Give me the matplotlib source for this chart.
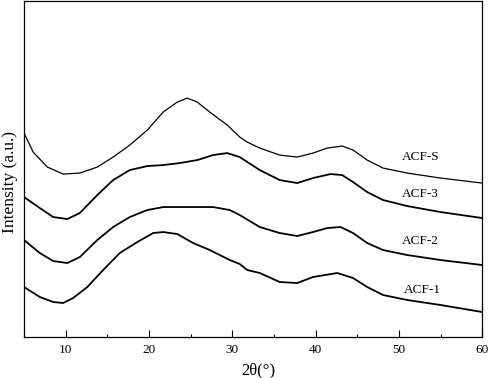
import matplotlib
matplotlib.use("Agg")
import matplotlib.pyplot as plt
from matplotlib.ticker import MultipleLocator

plt.rcParams['font.family'] = ['Liberation Serif', 'DejaVu Serif']

# Curves: 2theta (deg) and relative intensity (a.u.)
s_x = [5, 6.1, 7.8, 9.7, 11.7, 13.8, 15.7, 17.7, 19.8, 21.7, 23.4, 24.6, 25.8, 27.3,
       29.4, 30.9, 31.8, 33.3, 35.7, 37.8, 39.7, 41.4, 43.2, 44.5, 46.2, 48.1, 51, 55, 60]
s_y = [204, 185, 170, 163, 164, 170, 180, 192, 207, 225, 235, 239, 235, 225,
       212, 200, 195, 189, 182, 180, 184, 189, 191, 187, 177, 169, 164, 159, 154]

a3_x = [5, 6.9, 8.5, 10.2, 11.7, 13.8, 15.7, 17.7, 19.8, 21.7, 23.7, 25.8, 27.7, 29.4,
        30.9, 33.3, 35.7, 37.8, 39.7, 41.8, 43.2, 44.5, 46.2, 48.1, 51, 55, 60]
a3_y = [140, 129, 120, 118, 124, 142, 157, 167, 171, 172, 174, 177, 182, 184,
        180, 167, 157, 154, 159, 163, 162, 155, 145, 137, 131, 125, 119]

a2_x = [5, 6.9, 8.5, 10.2, 11.7, 13.8, 15.7, 17.7, 19.8, 21.7, 23.7, 25.8, 27.7, 29.7,
        30.9, 33.3, 35.7, 37.8, 39.7, 41.4, 43, 44.5, 46.2, 48.1, 51, 55, 60]
a2_y = [97, 84, 76, 74, 80, 97, 110, 120, 127, 130, 130, 130, 130, 127,
        122, 110, 104, 101, 105, 109, 110, 104, 94, 87, 82, 77, 72]

a1_x = [5, 6.9, 8.5, 9.7, 10.9, 12.6, 14.5, 16.5, 18.6, 20.5, 21.7, 23.4, 25.3, 27.3,
        29.7, 30.9, 31.8, 33.3, 35.7, 37.8, 39.7, 42.6, 44.5, 46.2, 48.1, 51, 55, 60]
a1_y = [50, 40, 35, 34, 39, 50, 67, 84, 95, 104, 105, 103, 94, 87,
        77, 73, 67, 64, 55, 54, 60, 64, 59, 50, 42, 37, 32, 25]

labels = ["ACF-S", "ACF-3", "ACF-2", "ACF-1"]
label_x = [52.6, 52.6, 52.6, 52.8]
label_y = [180, 143, 96, 47]

fig = plt.figure(figsize=(4.9, 3.78), dpi=100)
ax = fig.add_axes([0.049, 0.1085, 0.935, 0.8885])

ax.plot(s_x, s_y, color="black", lw=0.9)
ax.plot(a3_x, a3_y, color="black", lw=1.3)
ax.plot(a2_x, a2_y, color="black", lw=1.3)
ax.plot(a1_x, a1_y, color="black", lw=1.3)

for name, lx, ly in zip(labels, label_x, label_y):
    ax.text(lx, ly, name, fontsize=9.5, ha="center", va="center")

ax.set_xlim(5, 60)
ax.set_ylim(0, 336)
ax.set_yticks([])
ax.xaxis.set_major_locator(MultipleLocator(10))
ax.xaxis.set_minor_locator(MultipleLocator(5))
ax.tick_params(axis="x", which="major", direction="in", length=5, width=0.8,
               labelsize=9.5, pad=5)
ax.tick_params(axis="x", which="minor", direction="in", length=2.5, width=0.8)

ax.set_xlabel("2θ(°)", fontsize=12, va="center")
ax.xaxis.set_label_coords(0.511, -0.098)
ax.set_ylabel("Intensity (a.u.)", fontsize=12.5, va="center")
ax.yaxis.set_label_coords(-0.031, 0.46)
for sp in ax.spines.values():
    sp.set_linewidth(0.9)

fig.savefig("out.png", dpi=100)
